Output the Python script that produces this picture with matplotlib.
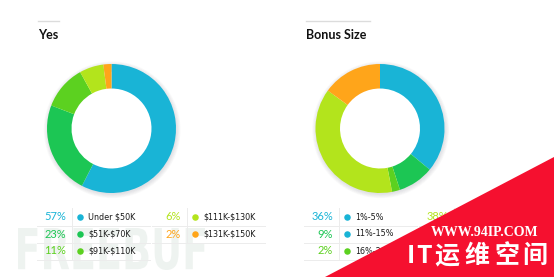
import matplotlib
matplotlib.use('Agg')
import matplotlib.pyplot as plt
from matplotlib.patches import Polygon, PathPatch, Wedge
from matplotlib.textpath import TextPath
from matplotlib.font_manager import FontProperties
from matplotlib.transforms import Affine2D

plt.rcParams['text.parse_math'] = False

# data
yes_labels = ['Under $50K', '$51K-$70K', '$91K-$110K', '$111K-$130K', '$131K-$150K']
yes_values = [57, 23, 11, 6, 2]
yes_colors = ['#19b4d6', '#1cc654', '#5cd120', '#b3e41c', '#ffa51a']
yes_dots = ['#19b4d6', '#1cc654', '#5cd120', '#b3e41c', '#ffa51a']

bonus_labels = ['1%-5%', '11%-15%', '16%-20%', '6%-10%', 'Over 20%']
bonus_values = [36, 9, 2, 38, 15]
bonus_colors = ['#19b4d6', '#1cc654', '#5cd120', '#b3e41c', '#ffa51a']
bonus_dots = ['#19b4d6', '#19b4d6', '#5cd120', '#b3e41c', '#ffa51a']

W, H = 554, 277
fig = plt.figure(figsize=(W / 100, H / 100), dpi=100)
fig.patch.set_facecolor('white')

ax = fig.add_axes([0, 0, 1, 1])
ax.set_xlim(0, W)
ax.set_ylim(H, 0)
ax.axis('off')


def donut(cx, cy, r, values, colors):
    pad = 1.15
    pax = fig.add_axes([(cx - pad * r) / W, (H - cy - pad * r) / H,
                        2 * pad * r / W, 2 * pad * r / H])
    # soft shadow just outside the ring
    for k in range(6):
        pax.add_patch(Wedge((0.01, -0.02), 1.0 + 0.012 * k, 0, 360,
                            width=0.1 + 0.012 * k, color='#9a9aa8',
                            alpha=0.05, lw=0, zorder=0))
    pax.pie(values, colors=colors, startangle=90, counterclock=False,
            radius=1.0, wedgeprops=dict(width=0.38, edgecolor='none'))
    pax.set_xlim(-pad, pad)
    pax.set_ylim(-pad, pad)
    pax.axis('off')


def panel(x0, title, line_w, cx, cy, values, labels, colors, dots, pct_x):
    ax.plot([x0, x0 + line_w], [21, 21], color='#dcdcdc', lw=1)
    ax.text(x0, 35, title, fontsize=9, fontweight='bold', family='Lato',
            color='#111111', va='center', ha='left')
    donut(cx, cy, 64.5, values, colors)

    rows_y = [217, 234, 251]
    cols = [pct_x, pct_x + 115]
    for i, (v, lab) in enumerate(zip(values, labels)):
        col, row = divmod(i, 3)
        px = cols[col]
        y = rows_y[row]
        ax.text(px, y, f'{v}%', fontsize=8, family='Lato', color=colors[i],
                ha='right', va='center')
        ax.scatter([px + 14], [y], s=22, color=dots[i], lw=0, zorder=3)
        ax.text(px + 22, y, lab, fontsize=5.8, family='DejaVu Sans',
                color='#1a1a1a', ha='left', va='center')
    # table rules
    for col, nrows in zip(cols, [3, 2]):
        for r in range(nrows):
            ax.plot([col - 29, col + 84], [rows_y[r] + 8.5] * 2,
                    color='#ececec', lw=0.7, zorder=1)
        ax.plot([col + 6, col + 6], [rows_y[0] - 9, rows_y[nrows - 1] + 8.5],
                color='#ececec', lw=0.7, zorder=1)


panel(38, 'Yes', 21, 111.5, 128.5, yes_values, yes_labels, yes_colors,
      yes_dots, 66)
panel(306, 'Bonus Size', 64, 380, 128.5, bonus_values, bonus_labels,
      bonus_colors, bonus_dots, 333)

# faint FREEBUF watermark
tp = TextPath((0, 0), 'FREEBUF', size=1,
              prop=FontProperties(family='DejaVu Sans', weight='bold'))
bb = tp.get_extents()
tr = (Affine2D().translate(-bb.x0, -bb.y0)
      .scale(187 / bb.width, -42 / bb.height).translate(18, 270))
ax.add_patch(PathPatch(tr.transform_path(tp), color='#eef3f0', lw=0,
                       zorder=0.5))

# red corner banner
ax.add_patch(Polygon([[325, H], [W, 157], [W, H]], closed=True,
                     color='#f5102f', lw=0, zorder=5))
ax.text(485, 232, 'WWW.94IP.COM', fontsize=10, family='Liberation Serif',
        fontweight='bold', color='white', ha='center', va='center', zorder=6)
for ch, x in zip('IT运维空间', [411, 424, 447, 477, 507, 535]):
    ax.text(x, 256, ch, fontsize=18, fontweight='bold', color='white',
            family=['Noto Sans CJK SC', 'DejaVu Sans'],
            ha='center', va='center', zorder=6)

fig.savefig('out.png', dpi=100, facecolor='white')
